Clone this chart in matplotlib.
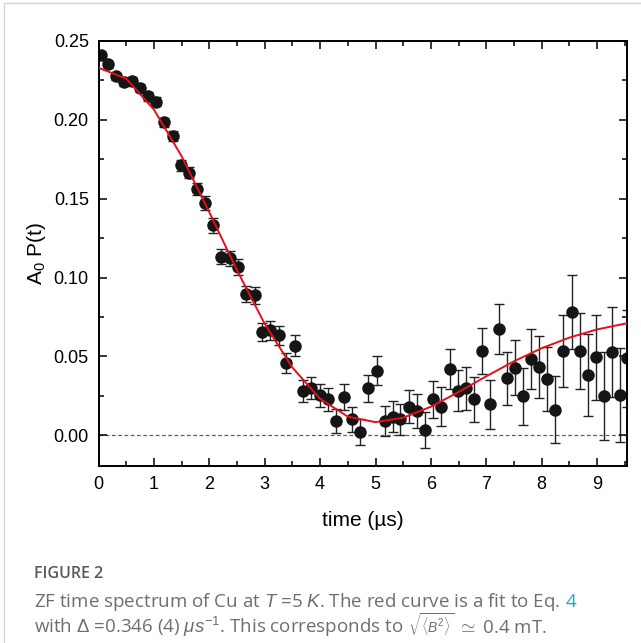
import matplotlib.pyplot as plt
from matplotlib.lines import Line2D
from matplotlib.ticker import MultipleLocator

# muSR zero-field spectrum
t = [0.036, 0.17, 0.307, 0.458, 0.60, 0.753, 0.89, 1.04, 1.19, 1.343,
     1.487, 1.632, 1.78, 1.93, 2.066, 2.217, 2.368, 2.518, 2.669, 2.82,
     2.958, 3.10, 3.253, 3.39, 3.54, 3.69, 3.84, 3.99, 4.145, 4.28,
     4.43, 4.57, 4.717, 4.87, 5.02, 5.17, 5.31, 5.45, 5.60, 5.75,
     5.89, 6.04, 6.19, 6.34, 6.48, 6.63, 6.77, 6.92, 7.07, 7.22,
     7.37, 7.51, 7.66, 7.80, 7.95, 8.10, 8.24, 8.39, 8.54, 8.69,
     8.83, 8.98, 9.13, 9.27, 9.42, 9.54]
asym = [0.2408, 0.2351, 0.2277, 0.2238, 0.2245, 0.2203, 0.2149, 0.2114, 0.1984, 0.1895,
        0.1711, 0.1663, 0.1561, 0.1472, 0.1330, 0.1133, 0.1122, 0.1069, 0.0896, 0.0889,
        0.0652, 0.0667, 0.0633, 0.0460, 0.0568, 0.0280, 0.0297, 0.0254, 0.0227, 0.0089,
        0.0243, 0.0100, 0.0021, 0.0297, 0.0409, 0.0089, 0.0116, 0.0100, 0.0180, 0.0152,
        0.0036, 0.0227, 0.0182, 0.0419, 0.0283, 0.0297, 0.0227, 0.0536, 0.0197, 0.0675,
        0.0360, 0.0428, 0.0246, 0.0481, 0.0434, 0.0356, 0.0163, 0.0536, 0.0780, 0.0536,
        0.0381, 0.0494, 0.0248, 0.0529, 0.0254, 0.0487]
err = [0.0020, 0.0021, 0.0022, 0.0023, 0.0024, 0.0025, 0.0027, 0.0028, 0.0030, 0.0031,
       0.0033, 0.0035, 0.0040, 0.0042, 0.0045, 0.0046, 0.0047, 0.0050, 0.0052, 0.0054,
       0.0057, 0.0060, 0.0062, 0.0064, 0.0067, 0.0068, 0.0070, 0.0072, 0.0075, 0.0078,
       0.0080, 0.0082, 0.0085, 0.0088, 0.0092, 0.0095, 0.0098, 0.0100, 0.0104, 0.0108,
       0.0114, 0.0118, 0.0122, 0.0127, 0.0130, 0.0138, 0.0143, 0.0146, 0.0156, 0.0160,
       0.0167, 0.0175, 0.0180, 0.0190, 0.0197, 0.0204, 0.0215, 0.0228, 0.0234, 0.0240,
       0.0260, 0.0270, 0.0280, 0.0284, 0.0300, 0.0310]

# red fit curve, read at half-microsecond steps
fit_t = [0.0, 0.5, 1.0, 1.5, 2.0, 2.5, 3.0, 3.5, 4.0, 4.5,
         5.0, 5.5, 6.0, 6.5, 7.0, 7.5, 8.0, 8.5, 9.0, 9.54]
fit_y = [0.2330, 0.2261, 0.2065, 0.1769, 0.1414, 0.1046, 0.0706, 0.0429, 0.0231, 0.0118,
         0.0083, 0.0111, 0.0181, 0.0274, 0.0374, 0.0469, 0.0552, 0.0619, 0.0671, 0.0710]

plt.rcParams['font.family'] = 'Liberation Sans'
plt.rcParams['mathtext.fontset'] = 'custom'
plt.rcParams['mathtext.rm'] = 'Liberation Sans'
plt.rcParams['mathtext.it'] = 'Liberation Sans:italic'

fig = plt.figure(figsize=(6.41, 6.43), dpi=100)
ax = fig.add_axes([0.1537, 0.2753, 0.8245, 0.661])

ax.axhline(0, color='#4b5ca8', lw=0.9, ls=(0, (3, 2)), zorder=1)
ax.errorbar(t, asym, yerr=err, fmt='o', ms=8, color='#151515',
            ecolor='#222222', elinewidth=1, capsize=3.5, capthick=1, zorder=2)
ax.plot(fit_t, fit_y, color='#e3101b', lw=1.4, zorder=3)

ax.set_xlim(0, 9.54)
ax.set_ylim(-0.0195, 0.25)
ax.xaxis.set_major_locator(MultipleLocator(1))
ax.xaxis.set_minor_locator(MultipleLocator(0.5))
ax.yaxis.set_major_locator(MultipleLocator(0.05))
ax.yaxis.set_minor_locator(MultipleLocator(0.025))
ax.yaxis.set_major_formatter(plt.FormatStrFormatter('%.2f'))
ax.tick_params(which='both', direction='in', top=True, right=True, width=1.1)
ax.tick_params(which='major', length=5.5, labelsize=13, pad=7)
ax.tick_params(which='minor', length=3.5)
for s in ax.spines.values():
    s.set_linewidth(1.4)

ax.set_xlabel('time (\u00b5s)', fontsize=15, labelpad=13)
ax.set_ylabel(r'A$_0$ P(t)', fontsize=15, labelpad=4)

# light frame of the figure panel
fig.add_artist(Line2D([4 / 641, 1], [1 - 3 / 643, 1 - 3 / 643], color='#d6d6d6', lw=1))
fig.add_artist(Line2D([4 / 641, 4 / 641], [0, 1 - 3 / 643], color='#d6d6d6', lw=1))

cap = '#6e6e6e'
r = fig.canvas.get_renderer()


def chain(x_px, y_px, parts):
    # write pieces one after another on the same baseline; gap in pixels
    for txt, size, color, gap in parts:
        tx = fig.text((x_px + gap) / 641, 1 - y_px / 643, txt, fontsize=size, color=color,
                      family='Open Sans', va='baseline')
        x_px = tx.get_window_extent(r).x1


fig.text(34 / 641, 1 - 578 / 643, 'FIGURE 2', fontsize=11.5, color='#5a5a5a',
         family='Open Sans', weight='semibold', va='baseline')
chain(34, 607, [
    (r'ZF time spectrum of Cu at $T$ =5 $K$. The red curve is a fit to Eq.', 13.5, cap, 0),
    ('4', 13.5, '#1ba7c9', 5),
])
chain(34, 633, [
    (r'with $\Delta$ =0.346 (4) $\mu s^{-1}$. This corresponds to', 13.5, cap, 0),
    (r'$\sqrt{\langle B^2\rangle}$', 10, cap, 5),
    (r'$\simeq$ 0.4 mT.', 13.5, cap, 3),
])

fig.savefig('out.png', dpi=100)
